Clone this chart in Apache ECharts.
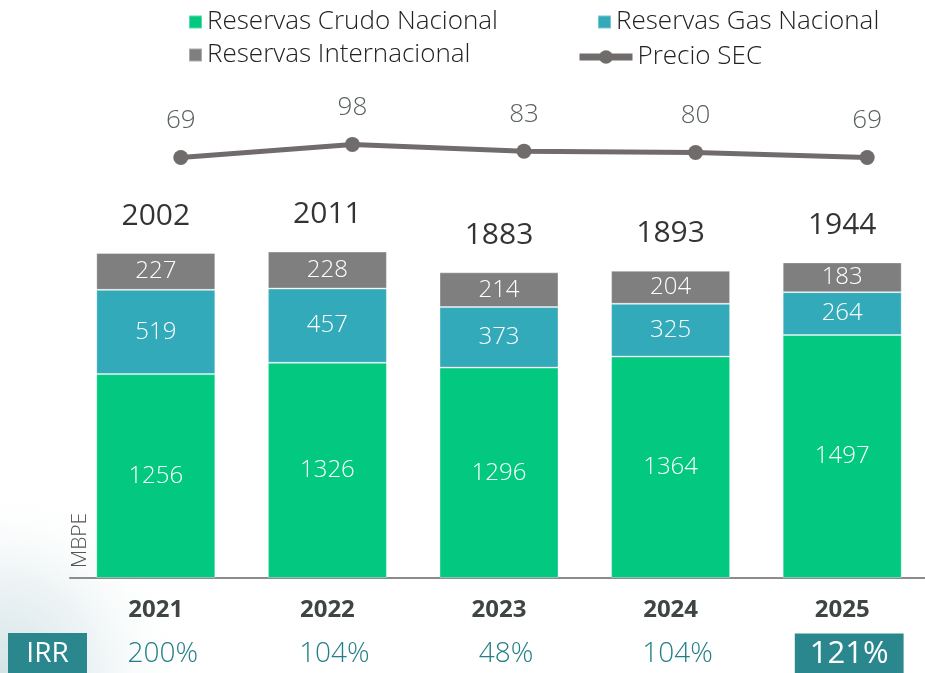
<!DOCTYPE html>
<html>
<head>
<meta charset="utf-8">
<script src="https://cdn.jsdelivr.net/npm/echarts@6/dist/echarts.min.js"></script>
<style>
  html, body { margin: 0; padding: 0; background: #fff; }
  #chart { width: 925px; height: 673px; }
</style>
</head>
<body>
<div id="chart"></div>
<script>
const years = ['2021', '2022', '2023', '2024', '2025']
const crudo = [1256, 1326, 1296, 1364, 1497]
const gas = [519, 457, 373, 325, 264]
const internacional = [227, 228, 214, 204, 183]
const totales = [2002, 2011, 1883, 1893, 1944]
const precio = [69, 98, 83, 80, 69]
const irr = ['200%', '104%', '48%', '104%', '121%']

const FONT = '"Open Sans", sans-serif'
const segLabel = {
  show: true,
  position: 'inside',
  color: '#fff',
  fontSize: 24,
  fontWeight: 300,
  fontFamily: FONT
}
const legendText = { fontSize: 26, color: '#222', fontFamily: FONT, fontWeight: 300 }

const option = {
  animation: false,
  backgroundColor: '#fff',
  graphic: [
    {
      type: 'rect',
      left: 0,
      top: 280,
      shape: { width: 190, height: 393 },
      style: {
        fill: {
          type: 'radial', x: 0, y: 1, r: 1,
          colorStops: [
            { offset: 0, color: '#d2e3e6' },
            { offset: 0.5, color: 'rgba(225,236,238,0.6)' },
            { offset: 1, color: 'rgba(255,255,255,0)' }
          ]
        }
      },
      z: -10
    },
    {
      type: 'text',
      x: 70,
      y: 568,
      rotation: Math.PI / 2,
      style: {
        text: 'MBPE',
        fill: '#555',
        font: '300 21px ' + FONT,
        textAlign: 'left',
        textVerticalAlign: 'top'
      }
    },
    {
      type: 'group',
      left: 8,
      top: 633,
      children: [
        { type: 'rect', shape: { x: 0, y: 0, width: 79, height: 40 }, style: { fill: '#2b878e' } },
        {
          type: 'text',
          style: {
            x: 39.5, y: 21, text: 'IRR', fill: '#fff',
            font: '500 28px ' + FONT, textAlign: 'center', textVerticalAlign: 'middle'
          }
        }
      ]
    }
  ],
  legend: [
    { data: ['Reservas Crudo Nacional'], left: 188, top: 9, padding: 0, itemWidth: 13, itemHeight: 13, icon: 'rect', textStyle: legendText },
    { data: ['Reservas Gas Nacional'], left: 597, top: 9, padding: 0, itemWidth: 13, itemHeight: 13, icon: 'rect', textStyle: legendText },
    { data: ['Reservas Internacional'], left: 188, top: 42, padding: 0, itemWidth: 13, itemHeight: 13, icon: 'rect', textStyle: legendText },
    {
      data: ['Precio SEC'], left: 576, top: 44, padding: 0, itemWidth: 53, itemHeight: 17,
      lineStyle: { width: 7 },
      textStyle: legendText
    }
  ],
  grid: [
    { left: 70, width: 858, top: 91, bottom: 95, outerBoundsMode: 'none' },
    { left: 95, width: 858, top: 139, height: 27, outerBoundsMode: 'none' },
    { left: 77, width: 858, top: 600, bottom: 53, outerBoundsMode: 'none' }
  ],
  xAxis: [
    {
      type: 'category',
      gridIndex: 0,
      data: years,
      axisLine: { lineStyle: { color: '#8c8c8c', width: 2 } },
      axisTick: { show: false },
      axisLabel: { margin: 20, fontSize: 24, fontWeight: 'bold', color: '#3e4544', fontFamily: FONT }
    },
    {
      type: 'category',
      gridIndex: 1,
      data: years,
      show: false
    },
    {
      type: 'category',
      gridIndex: 2,
      data: irr,
      axisLine: { show: false },
      axisTick: { show: false },
      axisLabel: {
        margin: 34,
        verticalAlign: 'middle',
        fontSize: 28,
        fontWeight: 300,
        color: '#237f87',
        fontFamily: FONT,
        formatter: (v, i) => i === irr.length - 1 ? '{hl|' + v + '}' : v,
        rich: {
          hl: {
            backgroundColor: '#2b878e',
            color: '#fff',
            fontSize: 31,
            fontWeight: 500,
            fontFamily: FONT,
            lineHeight: 31,
            padding: [5, 15, 5, 15]
          }
        }
      }
    }
  ],
  yAxis: [
    { type: 'value', gridIndex: 0, min: 0, max: 3000, show: false },
    { type: 'value', gridIndex: 1, min: 50, max: 110, show: false },
    { type: 'value', gridIndex: 2, show: false }
  ],
  series: [
    {
      name: 'Reservas Crudo Nacional',
      type: 'bar',
      stack: 'reservas',
      barWidth: 119,
      data: crudo,
      itemStyle: { color: '#02c880', borderColor: 'rgba(255,255,255,0.35)', borderWidth: 1 },
      label: segLabel
    },
    {
      name: 'Reservas Gas Nacional',
      type: 'bar',
      stack: 'reservas',
      data: gas,
      itemStyle: { color: '#32aab9', borderColor: 'rgba(255,255,255,0.35)', borderWidth: 1 },
      label: segLabel
    },
    {
      name: 'Reservas Internacional',
      type: 'bar',
      stack: 'reservas',
      data: internacional,
      itemStyle: { color: '#7f7f7f', borderColor: 'rgba(255,255,255,0.35)', borderWidth: 1 },
      label: segLabel
    },
    {
      name: 'Total',
      type: 'scatter',
      data: totales,
      symbolSize: 0,
      silent: true,
      label: {
        show: true,
        position: 'top',
        distance: 22,
        color: '#000',
        fontSize: 30,
        fontFamily: FONT
      }
    },
    {
      name: 'Precio SEC',
      type: 'line',
      xAxisIndex: 1,
      yAxisIndex: 1,
      data: precio,
      symbol: 'circle',
      symbolSize: 15,
      lineStyle: { color: '#716c6c', width: 5 },
      itemStyle: { color: '#716c6c' },
      label: {
        show: true,
        position: 'top',
        distance: 16,
        color: '#59605f',
        fontSize: 26,
        fontWeight: 300,
        fontFamily: FONT
      }
    }
  ]
}

const myChart = echarts.init(document.getElementById('chart'))
myChart.setOption(option)
</script>
</body>
</html>
